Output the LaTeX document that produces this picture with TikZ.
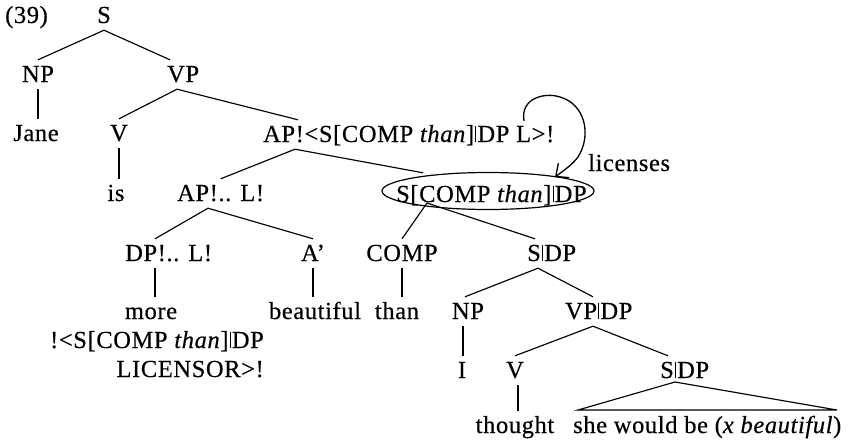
\documentclass[tikz,border=0pt]{standalone}
\usepackage{fontspec}
\setmainfont[LetterSpace=2.5,FakeBold=0.4]{Liberation Serif}
\usetikzlibrary{calc,arrows.meta}
% thin cap-height bar used in slash categories such as S|DP
\newcommand{\catbar}{\kern0.05em\rule{0.9pt}{0.64em}\kern0.05em}
\tikzset{
  lbl/.style={font=\fontsize{24.5}{29}\selectfont, inner xsep=0pt, inner ysep=7pt,
              text height=15pt, text depth=0pt, anchor=base},
  branch/.style={line width=1.15pt},
}
\begin{document}
\begin{tikzpicture}[x=1pt,y=-1pt]
\useasboundingbox (0,0) rectangle (856,444);
\fill[white] (0,0) rectangle (856,444);

% example number
\node[lbl, anchor=base west] (num) at (5,23) {(39)};

% row 0 - 2
\node[lbl] (s) at (104,23) {S};
\node[lbl] (np1) at (38,82) {NP};
\node[lbl, anchor=base west] (vp) at (167,82) {VP};
\node[lbl] (jane) at (36,141) {Jane};
\node[lbl] (v1) at (119,141) {V};
\node[lbl, anchor=base west] (apl) at (263,142) {AP!<S[COMP \textit{than}]\catbar DP L>!};
\node[lbl, anchor=base west] (lic) at (588,171) {licenses};

% row 3
\node[lbl] (is) at (116,201) {is};
\node[lbl, anchor=base west] (apd) at (177,201) {AP!.. L!};
\node[lbl, anchor=base west] (sc) at (396,202) {S[COMP \textit{than}]\catbar DP};

% row 4
\node[lbl, anchor=base west] (dp) at (125,261) {DP!.. L!};
\node[lbl] (ap) at (313,261) {A'};
\node[lbl] (comp) at (402,261) {COMP};
\node[lbl, anchor=base west] (sdp1) at (527,261) {S\catbar DP};

% row 5
\node[lbl] (more) at (151,319) {more};
\node[lbl] (beautiful) at (315,319) {beautiful};
\node[lbl] (than) at (397,319) {than};
\node[lbl] (np2) at (468,319) {NP};
\node[lbl, anchor=base west] (vpdp) at (565,319) {VP\catbar DP};
\node[lbl, anchor=base east] (licA) at (264,348) {!<S[COMP \textit{than}]\catbar DP};
\node[lbl, anchor=base east] (licB) at (264,377) {LICENSOR>!};

% row 6 - 7
\node[lbl] (i) at (462,378) {I};
\node[lbl] (v2) at (515,378) {V};
\node[lbl, anchor=base west] (sdp2) at (660,378) {S\catbar DP};
\node[lbl] (thought) at (515,433) {thought};
\node[lbl, anchor=base west] (she) at (573,433) {she would be (\textit{x beautiful})};

% branches
\begin{scope}[branch]
\draw (s.south) -- (np1.north);
\draw (s.south) -- ([xshift=3pt]vp.north west);
\draw (np1.south) -- (np1.south |- jane.north);
\draw ([xshift=10pt]vp.south west) -- (v1.north);
\draw ([xshift=10pt]vp.south west) -- ([xshift=35pt]apl.north west);
\draw (v1.south) -- (v1.south |- is.north);
\draw ([xshift=32pt]apl.south west) -- (apd.north);
\draw ([xshift=32pt]apl.south west) -- ($(sc.north west)+(27,-7)$);
\draw ([xshift=31pt]apd.south west) -- ([xshift=30pt]dp.north west);
\draw ([xshift=31pt]apd.south west) -- (ap.north);
\draw ([xshift=30pt]dp.south west) -- ([xshift=30pt]dp.south west |- more.north);
\draw (ap.south) -- (ap.south |- beautiful.north);
\draw (comp.south) -- (comp.south |- than.north);
\coordinate (scj) at ($(sc.base west)+(31,1)$);
\draw (scj) -- (comp.north);
\draw (scj) -- ([xshift=8pt]sdp1.north west);
\draw ([xshift=11pt]sdp1.south west) -- ([xshift=-3pt]np2.north);
\draw ([xshift=11pt]sdp1.south west) -- ([xshift=28pt]vpdp.north west);
\draw ([xshift=-5pt]np2.south) -- ([xshift=-5pt]np2.south |- i.north);
\draw ([xshift=28pt]vpdp.south west) -- (v2.north);
\draw ([xshift=28pt]vpdp.south west) -- ([xshift=8pt]sdp2.north west);
\draw ([xshift=3pt]v2.south) -- ([xshift=3pt]v2.south |- thought.north);
% roof over the embedded clause
\coordinate (apex) at ($(sdp2.base west)+(15,4)$);
\draw (apex) -- ($(she.base west)+(5,-23)$) -- ($(she.base west)+(264,-23)$) -- cycle;
\end{scope}

% circled complement and the licensing arrow
\draw[line width=1.2pt] ($(sc.base west)+(92,-11)$) ellipse [x radius=106pt, y radius=18.5pt];
\coordinate (arrstart) at ($(apl.base west)+(261,-21)$);
\coordinate (arrtip) at ($(sc.base west)+(159,-25)$);
\draw[line width=1.3pt, -{Straight Barb[length=10pt,width=18pt,line width=1.3pt]}]
  (arrstart) .. controls (520,98) and (545,92) .. (560,97)
  .. controls (585,104) and (592,135) .. (578,157)
  .. controls (572,165) and (563,171) .. (arrtip);
\end{tikzpicture}
\end{document}
